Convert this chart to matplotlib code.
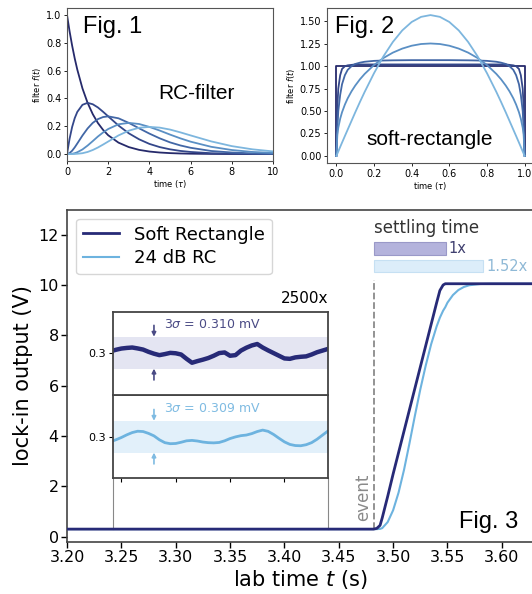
import numpy as np
import matplotlib.pyplot as plt

# ---- Fig. 1 : RC filter impulse responses (orders 1..5)
rc_t = [0, .125, .25, .375, .5, .75, 1, 1.25, 1.5, 1.75, 2, 2.5, 3, 3.5, 4, 4.5, 5, 5.5, 6, 7, 8, 9, 10]
rc_1 = [1.0, .8825, .779, .6873, .607, .472, .368, .287, .223, .174, .135, .082, .050, .030, .018, .011,
        .0067, .0041, .0025, .0009, .0003, .0001, 0.0]
rc_2 = [0, .110, .195, .258, .303, .354, .368, .358, .335, .304, .271, .205, .149, .106, .073, .050,
        .034, .0225, .015, .006, .003, .001, .0005]
rc_3 = [0, .007, .024, .048, .076, .133, .184, .224, .251, .266, .271, .257, .224, .185, .147, .113,
        .084, .062, .045, .022, .011, .005, .002]
rc_4 = [0, .0003, .002, .006, .013, .033, .061, .093, .126, .155, .180, .214, .224, .216, .195, .169,
        .140, .113, .089, .052, .029, .015, .008]
rc_5 = [0, 0, .0001, .0006, .002, .006, .015, .029, .047, .068, .090, .134, .168, .189, .195, .190,
        .176, .156, .134, .091, .057, .034, .019]

# ---- Fig. 2 : soft-rectangle family
sr_t = [0, .005, .01, .02, .03, .045, .06, .08, .1, .125, .15, .2, .25, .3, .35, .4, .45, .5,
        .55, .6, .65, .7, .75, .8, .85, .875, .9, .92, .94, .955, .97, .98, .99, .995, 1.0]
sr_sine = [0, .025, .049, .099, .148, .221, .293, .389, .485, .601, .713, .923, 1.111, 1.271, 1.400,
           1.494, 1.551, 1.571, 1.551, 1.494, 1.400, 1.271, 1.111, .923, .713, .601, .485, .389,
           .293, .221, .148, .099, .049, .025, 0]
sr_b = [0, .238, .314, .414, .487, .572, .642, .719, .784, .854, .914, 1.014, 1.092, 1.152, 1.197,
        1.229, 1.248, 1.254, 1.248, 1.229, 1.197, 1.152, 1.092, 1.014, .914, .854, .784, .719,
        .642, .572, .487, .414, .314, .238, 0]
sr_c = [0, .30, .50, .68, .80, .90, .96, 1.00, 1.025, 1.04, 1.05, 1.06, 1.064, 1.066, 1.067, 1.068,
        1.068, 1.068, 1.068, 1.068, 1.067, 1.066, 1.064, 1.06, 1.05, 1.04, 1.025, 1.00, .96, .90,
        .80, .68, .50, .30, 0]
sr_d = [0, .55, .75, .90, .97, 1.0, 1.01, 1.015, 1.02, 1.02, 1.02, 1.02, 1.02, 1.02, 1.02, 1.02,
        1.02, 1.02, 1.02, 1.02, 1.02, 1.02, 1.02, 1.02, 1.02, 1.02, 1.02, 1.015, 1.01, 1.0, .97,
        .90, .75, .55, 0]
rect_t = [0, 0, 1, 1]
rect_f = [0, 1, 1, 0]

# ---- Fig. 3 : step response of lock-in output
step_t = [3.20, 3.482, 3.485, 3.488, 3.490, 3.495, 3.500, 3.505, 3.510, 3.515, 3.520, 3.525, 3.530,
          3.535, 3.540, 3.543, 3.546, 3.548, 3.550, 3.555, 3.560, 3.565, 3.570, 3.580, 3.590, 3.63]
soft_rect = [0.30, 0.30, 0.33, 0.45, 0.75, 1.60, 2.49, 3.34, 4.19, 5.04, 5.89, 6.74, 7.59,
             8.44, 9.29, 9.78, 10.00, 10.05, 10.05, 10.05, 10.05, 10.05, 10.05, 10.05, 10.05, 10.05]
rc_24db = [0.30, 0.30, 0.30, 0.31, 0.34, 0.58, 1.05, 1.75, 2.65, 3.70, 4.80, 5.85, 6.80,
           7.65, 8.35, 8.70, 8.98, 9.12, 9.30, 9.60, 9.80, 9.92, 9.99, 10.04, 10.05, 10.05]
event_t = 3.482
settle_base = 0.0665          # s, soft rectangle
settle_factor = [1.0, 1.52]
settle_labels = ['1x', '1.52x']

# zoomed window (2500x)
zoom_window = [3.242, 3.440]
noise_t = [3.240, 3.245, 3.250, 3.255, 3.260, 3.265, 3.270, 3.275, 3.280, 3.285, 3.290,
           3.295, 3.300, 3.305, 3.310, 3.315, 3.320, 3.325, 3.330, 3.335, 3.340, 3.345,
           3.350, 3.355, 3.360, 3.365, 3.370, 3.375, 3.380, 3.385, 3.390, 3.395, 3.400,
           3.405, 3.410, 3.415, 3.420, 3.425, 3.430, 3.435, 3.440]
noise_soft_mV = [.013, .028, .040, .046, .050, .041, .030, .008, -.010, -.024, -.014, -.002,
                 -.006, -.018, -.060, -.098, -.082, -.068, -.052, -.030, -.004, .002, -.030,
                 -.024, .020, .048, .070, .084, .050, .022, -.004, -.030, -.056, -.060, -.046,
                 -.040, -.036, -.018, .004, .020, .036]
noise_rc_mV = [-.049, -.030, -.008, .018, .040, .053, .050, .032, .008, -.030, -.058, -.068,
               -.066, -.054, -.040, -.036, -.042, -.052, -.058, -.060, -.056, -.040, -.018,
               -.002, .010, .016, .030, .050, .064, .052, .022, -.015, -.050, -.075, -.086,
               -.088, -.078, -.058, -.025, .015, .055]
baseline = 0.3
sigma3_mV = [0.310, 0.309]

navy = '#272a77'
light = '#6db3df'
shades = ['#262a6b', '#34478a', '#4267a6', '#5a8fc4', '#7db6de']
annot_font = 'Liberation Sans'

W, H = 532, 594
fig = plt.figure(figsize=(W / 100, H / 100), dpi=100)


def px_axes(l, t, r, b):
    return fig.add_axes([l / W, 1 - b / H, (r - l) / W, (b - t) / H])


def small_style(ax):
    ax.tick_params(labelsize=7, length=2.5, width=0.6, pad=1.5)
    for s in ax.spines.values():
        s.set_color('#555555')
        s.set_linewidth(0.8)
    ax.set_xlabel(r'time ($\tau$)', fontsize=6, labelpad=1)
    ax.set_ylabel(r'filter $f(t)$', fontsize=6, labelpad=2)


# Fig. 1
ax1 = px_axes(67, 8, 273, 161)
for y, c in zip([rc_1, rc_2, rc_3, rc_4, rc_5], shades):
    ax1.plot(rc_t, y, color=c, lw=1.3)
ax1.set_xlim(0, 10)
ax1.set_ylim(-0.05, 1.05)
ax1.set_xticks([0, 2, 4, 6, 8, 10])
ax1.set_yticks([0, 0.2, 0.4, 0.6, 0.8, 1.0])
small_style(ax1)
ax1.text(0.078, 0.837, 'Fig. 1', transform=ax1.transAxes, fontsize=17, family=annot_font)
ax1.text(0.442, 0.405, 'RC-filter', transform=ax1.transAxes, fontsize=15, family=annot_font)

# Fig. 2
ax2 = px_axes(327, 8, 534, 163)
ax2.plot(rect_t, rect_f, color=shades[0], lw=1.3)
for y, c in zip([sr_d, sr_c, sr_b, sr_sine], shades[1:]):
    ax2.plot(sr_t, y, color=c, lw=1.3)
ax2.set_xlim(-0.05, 1.05)
ax2.set_ylim(-0.08, 1.65)
ax2.set_xticks([0, 0.2, 0.4, 0.6, 0.8, 1.0])
ax2.set_yticks([0, 0.25, 0.5, 0.75, 1.0, 1.25, 1.5])
ax2.yaxis.set_major_formatter('{x:.2f}')
ax2.xaxis.set_major_formatter('{x:.1f}')
small_style(ax2)
ax2.text(0.039, 0.839, 'Fig. 2', transform=ax2.transAxes, fontsize=17, family=annot_font)
ax2.text(0.189, 0.116, 'soft-rectangle', transform=ax2.transAxes, fontsize=15, family=annot_font)

# Fig. 3
ax3 = px_axes(67, 209.5, 534, 541.7)
ax3.plot(step_t, soft_rect, color=navy, lw=2.0, label='Soft Rectangle', zorder=4)
ax3.plot(step_t, rc_24db, color=light, lw=1.5, label='24 dB RC', zorder=3)
ax3.set_xlim(3.2, 3.6296)
ax3.set_ylim(-0.2, 13)
ax3.set_xticks([3.20, 3.25, 3.30, 3.35, 3.40, 3.45, 3.50, 3.55, 3.60])
ax3.xaxis.set_major_formatter('{x:.2f}')
ax3.set_yticks([0, 2, 4, 6, 8, 10, 12])
ax3.tick_params(labelsize=11.5, length=4, width=1, pad=2)
for s in ax3.spines.values():
    s.set_color('#444444')
    s.set_linewidth(1.2)
ax3.set_xlabel('lab time $t$ (s)', fontsize=15, labelpad=2)
ax3.set_ylabel('lock-in output (V)', fontsize=15, labelpad=4)
ax3.legend(loc='upper left', fontsize=13, borderaxespad=0.5, labelspacing=0.3,
           handlelength=2.0, borderpad=0.4, fancybox=True)

# event marker
ax3.plot([event_t, event_t], [baseline, 10.2], ls='--', color='#8a8a8a', lw=1.3, zorder=2)
ax3.text(event_t - 0.0015, 0.62, 'event', rotation=90, ha='right', va='bottom',
         color='#8a8a8a', fontsize=12)
ax3.text(0.9657, 0.041, 'Fig. 3', transform=ax3.transAxes, ha='right', va='baseline',
         fontsize=17, family=annot_font)

# settling time bars
bar_y = [11.44, 10.75]
ax3.barh(bar_y, [settle_base * f for f in settle_factor], left=event_t, height=0.5,
         color=['#b4b3dc', '#dcedfa'], edgecolor=['#9a99c8', '#c6e0f3'], lw=0.8)
ax3.text(event_t, 12.08, 'settling time', fontsize=12, va='baseline', color='#333333')
for y, f, lab, c in zip(bar_y, settle_factor, settle_labels, ['#3f3f6f', '#8fb9d6']):
    ax3.text(event_t + settle_base * f + 0.0025, y, lab, va='center', fontsize=10.5, color=c)

# zoom connectors
for x in zoom_window:
    ax3.plot([x, x], [baseline, 2.344], color='#888888', lw=0.8, zorder=1)

# insets
zw = zoom_window[1] - zoom_window[0]
ax_lo = ax3.inset_axes([zoom_window[0], 2.344, zw, 3.298], transform=ax3.transData)
ax_up = ax3.inset_axes([zoom_window[0], 5.642, zw, 3.298], transform=ax3.transData)
inset_defs = [
    (ax_up, noise_soft_mV, navy, 3.2, '#e4e5f2', sigma3_mV[0], '#4a4b85', (-0.408, 0.398)),
    (ax_lo, noise_rc_mV, light, 2.0, '#e2f0fa', sigma3_mV[1], '#7fbbe2', (-0.398, 0.408)),
]
for ax, dev, col, lw, band, s3, tcol, lims in inset_defs:
    ax.axhspan(baseline - s3 / 2e3, baseline + s3 / 2e3, color=band, lw=0, zorder=0)
    ax.plot(noise_t, [baseline + d / 1e3 for d in dev], color=col, lw=lw, zorder=2)
    ax.set_xlim(*zoom_window)
    ax.set_ylim(baseline + lims[0] / 1e3, baseline + lims[1] / 1e3)
    ax.set_yticks([baseline])
    ax.set_yticklabels(['0.3'])
    ax.tick_params(labelsize=8, length=3, width=0.8, pad=2)
    for s in ax.spines.values():
        s.set_color('#444444')
        s.set_linewidth(1.3)
    xa = 3.280
    top, bot = baseline + s3 / 2e3, baseline - s3 / 2e3
    ax.annotate('', xy=(xa, top), xytext=(xa, top + 0.11e-3),
                arrowprops=dict(arrowstyle='-|>', color=tcol, lw=1.2, mutation_scale=6,
                                shrinkA=0, shrinkB=0))
    ax.annotate('', xy=(xa, bot), xytext=(xa, bot - 0.11e-3),
                arrowprops=dict(arrowstyle='-|>', color=tcol, lw=1.2, mutation_scale=6,
                                shrinkA=0, shrinkB=0))
    ax.text(3.289, top + 0.115e-3, r'$3\sigma$ = %.3f mV' % s3, color=tcol,
            fontsize=9, va='center')
ax_up.set_xticks([])
ax_lo.set_xticks([3.25, 3.30, 3.35, 3.40])
ax_lo.set_xticklabels([])
ax_up.text(1.0, 1.1, '2500x', transform=ax_up.transAxes, ha='right', va='baseline', fontsize=11)

fig.savefig('out.png', dpi=100)
